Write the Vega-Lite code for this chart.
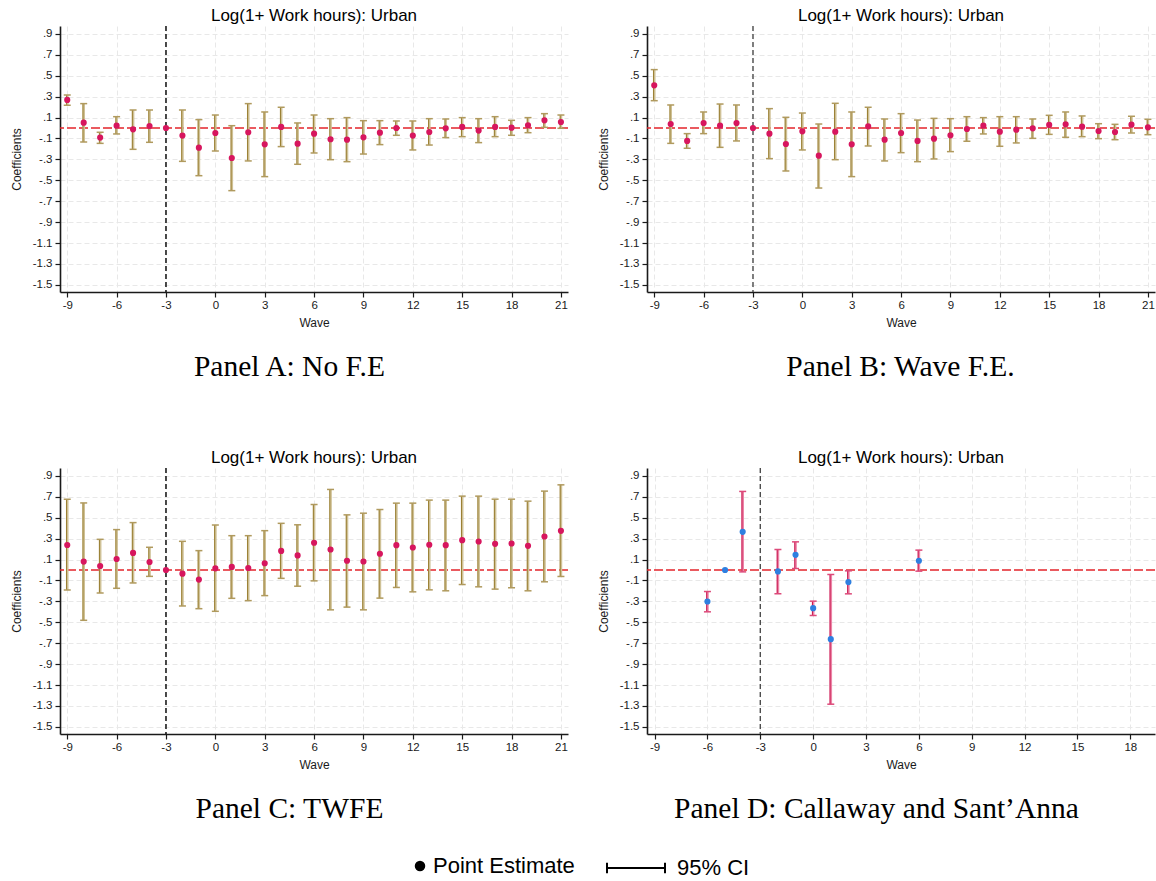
{
  "$schema": "https://vega.github.io/schema/vega-lite/v6.json",
  "padding": {"left": 10, "top": 7, "right": 0, "bottom": 0},
  "background": "white",
  "datasets": {
    "A": [
      {"wave": -9, "est": 0.268, "lo": 0.217, "hi": 0.315},
      {"wave": -8, "est": 0.051, "lo": -0.134, "hi": 0.233},
      {"wave": -7, "est": -0.092, "lo": -0.147, "hi": -0.041},
      {"wave": -6, "est": 0.022, "lo": -0.057, "hi": 0.108},
      {"wave": -5, "est": -0.013, "lo": -0.204, "hi": 0.172},
      {"wave": -4, "est": 0.019, "lo": -0.137, "hi": 0.172},
      {"wave": -3, "est": 0},
      {"wave": -2, "est": -0.073, "lo": -0.319, "hi": 0.172},
      {"wave": -1, "est": -0.188, "lo": -0.456, "hi": 0.080},
      {"wave": 0, "est": -0.048, "lo": -0.220, "hi": 0.124},
      {"wave": 1, "est": -0.287, "lo": -0.599, "hi": 0.022},
      {"wave": 2, "est": -0.041, "lo": -0.315, "hi": 0.233},
      {"wave": 3, "est": -0.156, "lo": -0.465, "hi": 0.153},
      {"wave": 4, "est": 0.010, "lo": -0.178, "hi": 0.198},
      {"wave": 5, "est": -0.150, "lo": -0.347, "hi": 0.048},
      {"wave": 6, "est": -0.054, "lo": -0.239, "hi": 0.124},
      {"wave": 7, "est": -0.108, "lo": -0.303, "hi": 0.089},
      {"wave": 8, "est": -0.112, "lo": -0.322, "hi": 0.099},
      {"wave": 9, "est": -0.089, "lo": -0.249, "hi": 0.070},
      {"wave": 10, "est": -0.045, "lo": -0.159, "hi": 0.070},
      {"wave": 11, "est": 0.000, "lo": -0.070, "hi": 0.067},
      {"wave": 12, "est": -0.073, "lo": -0.210, "hi": 0.067},
      {"wave": 13, "est": -0.038, "lo": -0.163, "hi": 0.089},
      {"wave": 14, "est": -0.003, "lo": -0.092, "hi": 0.086},
      {"wave": 15, "est": 0.010, "lo": -0.083, "hi": 0.099},
      {"wave": 16, "est": -0.025, "lo": -0.140, "hi": 0.089},
      {"wave": 17, "est": 0.010, "lo": -0.083, "hi": 0.108},
      {"wave": 18, "est": 0.003, "lo": -0.070, "hi": 0.073},
      {"wave": 19, "est": 0.025, "lo": -0.045, "hi": 0.099},
      {"wave": 20, "est": 0.073, "lo": 0.006, "hi": 0.137},
      {"wave": 21, "est": 0.057, "lo": -0.003, "hi": 0.124}
    ],
    "B": [
      {"wave": -9, "est": 0.408, "lo": 0.261, "hi": 0.558},
      {"wave": -8, "est": 0.038, "lo": -0.147, "hi": 0.220},
      {"wave": -7, "est": -0.124, "lo": -0.194, "hi": -0.054},
      {"wave": -6, "est": 0.048, "lo": -0.054, "hi": 0.153},
      {"wave": -5, "est": 0.022, "lo": -0.185, "hi": 0.229},
      {"wave": -4, "est": 0.048, "lo": -0.124, "hi": 0.220},
      {"wave": -3, "est": 0},
      {"wave": -2, "est": -0.054, "lo": -0.293, "hi": 0.185},
      {"wave": -1, "est": -0.153, "lo": -0.411, "hi": 0.102},
      {"wave": 0, "est": -0.032, "lo": -0.210, "hi": 0.143},
      {"wave": 1, "est": -0.265, "lo": -0.574, "hi": 0.038},
      {"wave": 2, "est": -0.035, "lo": -0.303, "hi": 0.236},
      {"wave": 3, "est": -0.156, "lo": -0.465, "hi": 0.153},
      {"wave": 4, "est": 0.016, "lo": -0.172, "hi": 0.198},
      {"wave": 5, "est": -0.112, "lo": -0.315, "hi": 0.086},
      {"wave": 6, "est": -0.048, "lo": -0.236, "hi": 0.137},
      {"wave": 7, "est": -0.124, "lo": -0.322, "hi": 0.076},
      {"wave": 8, "est": -0.102, "lo": -0.296, "hi": 0.092},
      {"wave": 9, "est": -0.070, "lo": -0.226, "hi": 0.089},
      {"wave": 10, "est": -0.010, "lo": -0.127, "hi": 0.108},
      {"wave": 11, "est": 0.022, "lo": -0.057, "hi": 0.099},
      {"wave": 12, "est": -0.035, "lo": -0.175, "hi": 0.108},
      {"wave": 13, "est": -0.016, "lo": -0.143, "hi": 0.108},
      {"wave": 14, "est": -0.003, "lo": -0.099, "hi": 0.086},
      {"wave": 15, "est": 0.029, "lo": -0.061, "hi": 0.121},
      {"wave": 16, "est": 0.035, "lo": -0.089, "hi": 0.153},
      {"wave": 17, "est": 0.013, "lo": -0.083, "hi": 0.115},
      {"wave": 18, "est": -0.029, "lo": -0.102, "hi": 0.041},
      {"wave": 19, "est": -0.038, "lo": -0.112, "hi": 0.035},
      {"wave": 20, "est": 0.032, "lo": -0.048, "hi": 0.112},
      {"wave": 21, "est": 0.006, "lo": -0.064, "hi": 0.083}
    ],
    "C": [
      {"wave": -9, "est": 0.239, "lo": -0.191, "hi": 0.676},
      {"wave": -8, "est": 0.080, "lo": -0.481, "hi": 0.641},
      {"wave": -7, "est": 0.038, "lo": -0.220, "hi": 0.293},
      {"wave": -6, "est": 0.105, "lo": -0.175, "hi": 0.386},
      {"wave": -5, "est": 0.163, "lo": -0.124, "hi": 0.453},
      {"wave": -4, "est": 0.076, "lo": -0.061, "hi": 0.217},
      {"wave": -3, "est": 0},
      {"wave": -2, "est": -0.035, "lo": -0.344, "hi": 0.274},
      {"wave": -1, "est": -0.092, "lo": -0.370, "hi": 0.185},
      {"wave": 0, "est": 0.016, "lo": -0.395, "hi": 0.430},
      {"wave": 1, "est": 0.029, "lo": -0.271, "hi": 0.328},
      {"wave": 2, "est": 0.019, "lo": -0.293, "hi": 0.328},
      {"wave": 3, "est": 0.064, "lo": -0.245, "hi": 0.376},
      {"wave": 4, "est": 0.182, "lo": -0.080, "hi": 0.446},
      {"wave": 5, "est": 0.139, "lo": -0.155, "hi": 0.432},
      {"wave": 6, "est": 0.260, "lo": -0.104, "hi": 0.626},
      {"wave": 7, "est": 0.196, "lo": -0.381, "hi": 0.770},
      {"wave": 8, "est": 0.088, "lo": -0.355, "hi": 0.527},
      {"wave": 9, "est": 0.081, "lo": -0.381, "hi": 0.543},
      {"wave": 10, "est": 0.155, "lo": -0.269, "hi": 0.578},
      {"wave": 11, "est": 0.237, "lo": -0.167, "hi": 0.639},
      {"wave": 12, "est": 0.215, "lo": -0.209, "hi": 0.639},
      {"wave": 13, "est": 0.241, "lo": -0.190, "hi": 0.668},
      {"wave": 14, "est": 0.237, "lo": -0.199, "hi": 0.668},
      {"wave": 15, "est": 0.285, "lo": -0.139, "hi": 0.706},
      {"wave": 16, "est": 0.272, "lo": -0.161, "hi": 0.706},
      {"wave": 17, "est": 0.250, "lo": -0.183, "hi": 0.677},
      {"wave": 18, "est": 0.253, "lo": -0.170, "hi": 0.677},
      {"wave": 19, "est": 0.231, "lo": -0.199, "hi": 0.658},
      {"wave": 20, "est": 0.320, "lo": -0.113, "hi": 0.754},
      {"wave": 21, "est": 0.374, "lo": -0.062, "hi": 0.814}
    ],
    "D": [
      {"wave": -6, "est": -0.301, "lo": -0.400, "hi": -0.206},
      {"wave": -5, "est": 0},
      {"wave": -4, "est": 0.365, "lo": -0.018, "hi": 0.751},
      {"wave": -2, "est": -0.014, "lo": -0.228, "hi": 0.196},
      {"wave": -1, "est": 0.145, "lo": 0.014, "hi": 0.269},
      {"wave": 0, "est": -0.365, "lo": -0.435, "hi": -0.298},
      {"wave": 1, "est": -0.661, "lo": -1.283, "hi": -0.043},
      {"wave": 2, "est": -0.116, "lo": -0.228, "hi": -0.008},
      {"wave": 6, "est": 0.088, "lo": -0.011, "hi": 0.190}
    ]
  },
  "spacing": 68,
  "vconcat": [
    {
      "spacing": 28,
      "hconcat": [
        {
          "title": {"text": "Panel A: No F.E", "orient": "bottom", "font": "Liberation Serif", "fontSize": 29.5, "frame": "bounds", "anchor": "middle", "offset": 24},
          "vconcat": [{
            "width": 508, "height": 266,
            "data": {"name": "A"},
            "title": {"text": "Log(1+ Work hours): Urban", "fontSize": 17, "frame": "group", "anchor": "middle", "offset": 0},
            "layer": [
              {"data": {"values": [{}]}, "mark": {"type": "rule", "color": "#000000", "strokeDash": [5, 3], "strokeWidth": 1.4},
               "encoding": {"x": {"datum": -3, "type": "quantitative", "scale": {"domain": [-9.44, 21.43], "nice": false, "zero": false}}}},
              {"data": {"values": [{}]}, "mark": {"type": "rule", "color": "#e3242b", "strokeDash": [9, 3], "strokeWidth": 1.4},
               "encoding": {"y": {"datum": 0, "type": "quantitative", "scale": {"domain": [-1.568, 0.975], "nice": false, "zero": false}}}},
              {"mark": {"type": "rule", "color": "#cfc196", "strokeWidth": 2.6},
               "encoding": {"x": {"field": "wave", "type": "quantitative", "title": "Wave", "scale": {"domain": [-9.44, 21.43], "nice": false, "zero": false}},
                            "y": {"field": "lo", "type": "quantitative", "title": "Coefficients", "scale": {"domain": [-1.568, 0.975], "nice": false, "zero": false}},
                            "y2": {"field": "hi"}}},
              {"mark": {"type": "rule", "color": "#9a7f33", "strokeWidth": 1, "xOffset": -0.7},
               "encoding": {"x": {"field": "wave", "type": "quantitative", "title": "Wave", "scale": {"domain": [-9.44, 21.43], "nice": false, "zero": false}},
                            "y": {"field": "lo", "type": "quantitative", "title": "Coefficients", "scale": {"domain": [-1.568, 0.975], "nice": false, "zero": false}},
                            "y2": {"field": "hi"}}},
              {"mark": {"type": "tick", "orient": "horizontal", "color": "#b09a5e", "opacity": 1, "size": 7, "thickness": 1.5},
               "encoding": {"x": {"field": "wave", "type": "quantitative", "title": "Wave", "scale": {"domain": [-9.44, 21.43], "nice": false, "zero": false}},
                            "y": {"field": "lo", "type": "quantitative", "title": "Coefficients", "scale": {"domain": [-1.568, 0.975], "nice": false, "zero": false}}}},
              {"mark": {"type": "tick", "orient": "horizontal", "color": "#b09a5e", "opacity": 1, "size": 7, "thickness": 1.5},
               "encoding": {"x": {"field": "wave", "type": "quantitative", "title": "Wave", "scale": {"domain": [-9.44, 21.43], "nice": false, "zero": false}},
                            "y": {"field": "hi", "type": "quantitative", "title": "Coefficients", "scale": {"domain": [-1.568, 0.975], "nice": false, "zero": false}}}},
              {"mark": {"type": "point", "filled": true, "color": "#d7165e", "size": 38, "opacity": 1},
               "encoding": {"x": {"field": "wave", "type": "quantitative", "title": "Wave", "scale": {"domain": [-9.44, 21.43], "nice": false, "zero": false},
                                  "axis": {"values": [-9, -6, -3, 0, 3, 6, 9, 12, 15, 18, 21], "tickCount": 30, "labelExpr": "(datum.value < 0 ? '-' : '') + abs(datum.value)"}},
                            "y": {"field": "est", "type": "quantitative", "title": "Coefficients", "scale": {"domain": [-1.568, 0.975], "nice": false, "zero": false},
                                  "axis": {"values": [0.9, 0.7, 0.5, 0.3, 0.1, -0.1, -0.3, -0.5, -0.7, -0.9, -1.1, -1.3, -1.5], "tickCount": 30, "labelOverlap": false, "labelExpr": "(datum.value < 0 ? '-' : '') + replace(format(abs(datum.value), '.1f'), '0.', '.')"}}}},
              {"data": {"values": [{}]}, "mark": {"type": "point", "filled": true, "color": "#000000", "opacity": 1, "size": 0},
               "encoding": {"shape": {"datum": "Point Estimate", "scale": {"domain": ["Point Estimate"], "range": ["circle"]},
                                      "legend": {"title": null, "orient": "none", "legendX": 349, "legendY": 829, "symbolSize": 110, "symbolType": "circle", "symbolFillColor": "#000000", "symbolStrokeColor": "#000000", "symbolOpacity": 1, "labelOffset": 2, "labelFontSize": 22}}}},
              {"data": {"values": [{}]}, "mark": {"type": "point", "filled": false, "color": "#000000", "opacity": 1, "size": 0, "strokeWidth": 2},
               "encoding": {"strokeDash": {"datum": "95% CI", "scale": {"domain": ["95% CI"], "range": [[1, 0]]},
                                           "legend": {"title": null, "orient": "none", "legendX": 546, "legendY": 812, "symbolSize": 3364, "symbolType": "M-1,0H1M-1,-0.18V0.18M1,-0.18V0.18", "symbolStrokeWidth": 2, "symbolStrokeColor": "#000000", "symbolOpacity": 1, "labelOffset": 11, "labelFontSize": 22}}}}
            ]
          }]
        },
        {
          "title": {"text": "Panel B: Wave F.E.", "orient": "bottom", "font": "Liberation Serif", "fontSize": 29.5, "frame": "bounds", "anchor": "middle", "offset": 24, "dx": 24},
          "vconcat": [{
            "width": 508, "height": 266,
            "data": {"name": "B"},
            "title": {"text": "Log(1+ Work hours): Urban", "fontSize": 17, "frame": "group", "anchor": "middle", "offset": 0},
            "layer": [
              {"data": {"values": [{}]}, "mark": {"type": "rule", "color": "#4d4d4d", "strokeDash": [5, 3], "strokeWidth": 1.4},
               "encoding": {"x": {"datum": -3, "type": "quantitative", "scale": {"domain": [-9.44, 21.43], "nice": false, "zero": false}}}},
              {"data": {"values": [{}]}, "mark": {"type": "rule", "color": "#e3242b", "strokeDash": [9, 3], "strokeWidth": 1.4},
               "encoding": {"y": {"datum": 0, "type": "quantitative", "scale": {"domain": [-1.568, 0.975], "nice": false, "zero": false}}}},
              {"mark": {"type": "rule", "color": "#cfc196", "strokeWidth": 2.6},
               "encoding": {"x": {"field": "wave", "type": "quantitative", "title": "Wave", "scale": {"domain": [-9.44, 21.43], "nice": false, "zero": false}},
                            "y": {"field": "lo", "type": "quantitative", "title": "Coefficients", "scale": {"domain": [-1.568, 0.975], "nice": false, "zero": false}},
                            "y2": {"field": "hi"}}},
              {"mark": {"type": "rule", "color": "#9a7f33", "strokeWidth": 1, "xOffset": -0.7},
               "encoding": {"x": {"field": "wave", "type": "quantitative", "title": "Wave", "scale": {"domain": [-9.44, 21.43], "nice": false, "zero": false}},
                            "y": {"field": "lo", "type": "quantitative", "title": "Coefficients", "scale": {"domain": [-1.568, 0.975], "nice": false, "zero": false}},
                            "y2": {"field": "hi"}}},
              {"mark": {"type": "tick", "orient": "horizontal", "color": "#b09a5e", "opacity": 1, "size": 7, "thickness": 1.5},
               "encoding": {"x": {"field": "wave", "type": "quantitative", "title": "Wave", "scale": {"domain": [-9.44, 21.43], "nice": false, "zero": false}},
                            "y": {"field": "lo", "type": "quantitative", "title": "Coefficients", "scale": {"domain": [-1.568, 0.975], "nice": false, "zero": false}}}},
              {"mark": {"type": "tick", "orient": "horizontal", "color": "#b09a5e", "opacity": 1, "size": 7, "thickness": 1.5},
               "encoding": {"x": {"field": "wave", "type": "quantitative", "title": "Wave", "scale": {"domain": [-9.44, 21.43], "nice": false, "zero": false}},
                            "y": {"field": "hi", "type": "quantitative", "title": "Coefficients", "scale": {"domain": [-1.568, 0.975], "nice": false, "zero": false}}}},
              {"mark": {"type": "point", "filled": true, "color": "#d7165e", "size": 38, "opacity": 1},
               "encoding": {"x": {"field": "wave", "type": "quantitative", "title": "Wave", "scale": {"domain": [-9.44, 21.43], "nice": false, "zero": false},
                                  "axis": {"values": [-9, -6, -3, 0, 3, 6, 9, 12, 15, 18, 21], "tickCount": 30, "labelExpr": "(datum.value < 0 ? '-' : '') + abs(datum.value)"}},
                            "y": {"field": "est", "type": "quantitative", "title": "Coefficients", "scale": {"domain": [-1.568, 0.975], "nice": false, "zero": false},
                                  "axis": {"values": [0.9, 0.7, 0.5, 0.3, 0.1, -0.1, -0.3, -0.5, -0.7, -0.9, -1.1, -1.3, -1.5], "tickCount": 30, "labelOverlap": false, "labelExpr": "(datum.value < 0 ? '-' : '') + replace(format(abs(datum.value), '.1f'), '0.', '.')"}}}}
            ]
          }]
        }
      ]
    },
    {
      "spacing": 28,
      "hconcat": [
        {
          "title": {"text": "Panel C: TWFE", "orient": "bottom", "font": "Liberation Serif", "fontSize": 29.5, "frame": "bounds", "anchor": "middle", "offset": 24},
          "vconcat": [{
            "width": 508, "height": 266,
            "data": {"name": "C"},
            "title": {"text": "Log(1+ Work hours): Urban", "fontSize": 17, "frame": "group", "anchor": "middle", "offset": 0},
            "layer": [
              {"data": {"values": [{}]}, "mark": {"type": "rule", "color": "#000000", "strokeDash": [5, 3], "strokeWidth": 1.4},
               "encoding": {"x": {"datum": -3, "type": "quantitative", "scale": {"domain": [-9.44, 21.43], "nice": false, "zero": false}}}},
              {"data": {"values": [{}]}, "mark": {"type": "rule", "color": "#e3242b", "strokeDash": [9, 3], "strokeWidth": 1.4},
               "encoding": {"y": {"datum": 0, "type": "quantitative", "scale": {"domain": [-1.568, 0.975], "nice": false, "zero": false}}}},
              {"mark": {"type": "rule", "color": "#cfc196", "strokeWidth": 2.6},
               "encoding": {"x": {"field": "wave", "type": "quantitative", "title": "Wave", "scale": {"domain": [-9.44, 21.43], "nice": false, "zero": false}},
                            "y": {"field": "lo", "type": "quantitative", "title": "Coefficients", "scale": {"domain": [-1.568, 0.975], "nice": false, "zero": false}},
                            "y2": {"field": "hi"}}},
              {"mark": {"type": "rule", "color": "#9a7f33", "strokeWidth": 1, "xOffset": -0.7},
               "encoding": {"x": {"field": "wave", "type": "quantitative", "title": "Wave", "scale": {"domain": [-9.44, 21.43], "nice": false, "zero": false}},
                            "y": {"field": "lo", "type": "quantitative", "title": "Coefficients", "scale": {"domain": [-1.568, 0.975], "nice": false, "zero": false}},
                            "y2": {"field": "hi"}}},
              {"mark": {"type": "tick", "orient": "horizontal", "color": "#b09a5e", "opacity": 1, "size": 7, "thickness": 1.5},
               "encoding": {"x": {"field": "wave", "type": "quantitative", "title": "Wave", "scale": {"domain": [-9.44, 21.43], "nice": false, "zero": false}},
                            "y": {"field": "lo", "type": "quantitative", "title": "Coefficients", "scale": {"domain": [-1.568, 0.975], "nice": false, "zero": false}}}},
              {"mark": {"type": "tick", "orient": "horizontal", "color": "#b09a5e", "opacity": 1, "size": 7, "thickness": 1.5},
               "encoding": {"x": {"field": "wave", "type": "quantitative", "title": "Wave", "scale": {"domain": [-9.44, 21.43], "nice": false, "zero": false}},
                            "y": {"field": "hi", "type": "quantitative", "title": "Coefficients", "scale": {"domain": [-1.568, 0.975], "nice": false, "zero": false}}}},
              {"mark": {"type": "point", "filled": true, "color": "#d7165e", "size": 38, "opacity": 1},
               "encoding": {"x": {"field": "wave", "type": "quantitative", "title": "Wave", "scale": {"domain": [-9.44, 21.43], "nice": false, "zero": false},
                                  "axis": {"values": [-9, -6, -3, 0, 3, 6, 9, 12, 15, 18, 21], "tickCount": 30, "labelExpr": "(datum.value < 0 ? '-' : '') + abs(datum.value)"}},
                            "y": {"field": "est", "type": "quantitative", "title": "Coefficients", "scale": {"domain": [-1.568, 0.975], "nice": false, "zero": false},
                                  "axis": {"values": [0.9, 0.7, 0.5, 0.3, 0.1, -0.1, -0.3, -0.5, -0.7, -0.9, -1.1, -1.3, -1.5], "tickCount": 30, "labelOverlap": false, "labelExpr": "(datum.value < 0 ? '-' : '') + replace(format(abs(datum.value), '.1f'), '0.', '.')"}}}}
            ]
          }]
        },
        {
          "title": {"text": "Panel D: Callaway and Sant’Anna", "orient": "bottom", "font": "Liberation Serif", "fontSize": 29.5, "frame": "bounds", "anchor": "middle", "offset": 24},
          "vconcat": [{
            "width": 508, "height": 266,
            "data": {"name": "D"},
            "title": {"text": "Log(1+ Work hours): Urban", "fontSize": 17, "frame": "group", "anchor": "middle", "offset": 0},
            "layer": [
              {"data": {"values": [{}]}, "mark": {"type": "rule", "color": "#4d4d4d", "strokeDash": [5, 3], "strokeWidth": 1.4},
               "encoding": {"x": {"datum": -3, "type": "quantitative", "scale": {"domain": [-9.43, 19.4], "nice": false, "zero": false}}}},
              {"data": {"values": [{}]}, "mark": {"type": "rule", "color": "#e3242b", "strokeDash": [9, 3], "strokeWidth": 1.4},
               "encoding": {"y": {"datum": 0, "type": "quantitative", "scale": {"domain": [-1.568, 0.975], "nice": false, "zero": false}}}},
              {"mark": {"type": "rule", "color": "#ec86a8", "strokeWidth": 2.6},
               "encoding": {"x": {"field": "wave", "type": "quantitative", "title": "Wave", "scale": {"domain": [-9.43, 19.4], "nice": false, "zero": false}},
                            "y": {"field": "lo", "type": "quantitative", "title": "Coefficients", "scale": {"domain": [-1.568, 0.975], "nice": false, "zero": false}},
                            "y2": {"field": "hi"}}},
              {"mark": {"type": "rule", "color": "#c8174f", "strokeWidth": 1, "xOffset": -0.7},
               "encoding": {"x": {"field": "wave", "type": "quantitative", "title": "Wave", "scale": {"domain": [-9.43, 19.4], "nice": false, "zero": false}},
                            "y": {"field": "lo", "type": "quantitative", "title": "Coefficients", "scale": {"domain": [-1.568, 0.975], "nice": false, "zero": false}},
                            "y2": {"field": "hi"}}},
              {"mark": {"type": "tick", "orient": "horizontal", "color": "#dd4a7a", "opacity": 1, "size": 7, "thickness": 1.5},
               "encoding": {"x": {"field": "wave", "type": "quantitative", "title": "Wave", "scale": {"domain": [-9.43, 19.4], "nice": false, "zero": false}},
                            "y": {"field": "lo", "type": "quantitative", "title": "Coefficients", "scale": {"domain": [-1.568, 0.975], "nice": false, "zero": false}}}},
              {"mark": {"type": "tick", "orient": "horizontal", "color": "#dd4a7a", "opacity": 1, "size": 7, "thickness": 1.5},
               "encoding": {"x": {"field": "wave", "type": "quantitative", "title": "Wave", "scale": {"domain": [-9.43, 19.4], "nice": false, "zero": false}},
                            "y": {"field": "hi", "type": "quantitative", "title": "Coefficients", "scale": {"domain": [-1.568, 0.975], "nice": false, "zero": false}}}},
              {"mark": {"type": "point", "filled": true, "color": "#2e7fe0", "size": 38, "opacity": 1},
               "encoding": {"x": {"field": "wave", "type": "quantitative", "title": "Wave", "scale": {"domain": [-9.43, 19.4], "nice": false, "zero": false},
                                  "axis": {"values": [-9, -6, -3, 0, 3, 6, 9, 12, 15, 18], "tickCount": 30, "labelExpr": "(datum.value < 0 ? '-' : '') + abs(datum.value)"}},
                            "y": {"field": "est", "type": "quantitative", "title": "Coefficients", "scale": {"domain": [-1.568, 0.975], "nice": false, "zero": false},
                                  "axis": {"values": [0.9, 0.7, 0.5, 0.3, 0.1, -0.1, -0.3, -0.5, -0.7, -0.9, -1.1, -1.3, -1.5], "tickCount": 30, "labelOverlap": false, "labelExpr": "(datum.value < 0 ? '-' : '') + replace(format(abs(datum.value), '.1f'), '0.', '.')"}}}}
            ]
          }]
        }
      ]
    }
  ],
  "config": {
    "font": "Liberation Sans",
    "view": {"stroke": null},
    "axis": {"grid": true, "gridColor": "#e8e8e8", "gridDash": [5, 3], "gridWidth": 1, "domainColor": "#1a1a1a", "domainWidth": 1.6, "tickColor": "#1a1a1a", "tickSize": 5, "tickWidth": 1.2, "labelFont": "Liberation Sans", "labelFontSize": 11.5, "labelColor": "#1a1a1a", "titleFont": "Liberation Sans", "titleFontSize": 12, "titleFontWeight": "normal", "titleColor": "#1a1a1a", "labelFlush": false, "labelOverlap": false},
    "axisX": {"labelPadding": 2, "titlePadding": 7},
    "axisY": {"labelPadding": 3, "titlePadding": 9},
    "title": {"font": "Liberation Sans", "fontWeight": "normal", "color": "#000000"},
    "legend": {"labelFont": "Liberation Sans", "labelFontSize": 22, "labelColor": "#000000"}
  }
}
